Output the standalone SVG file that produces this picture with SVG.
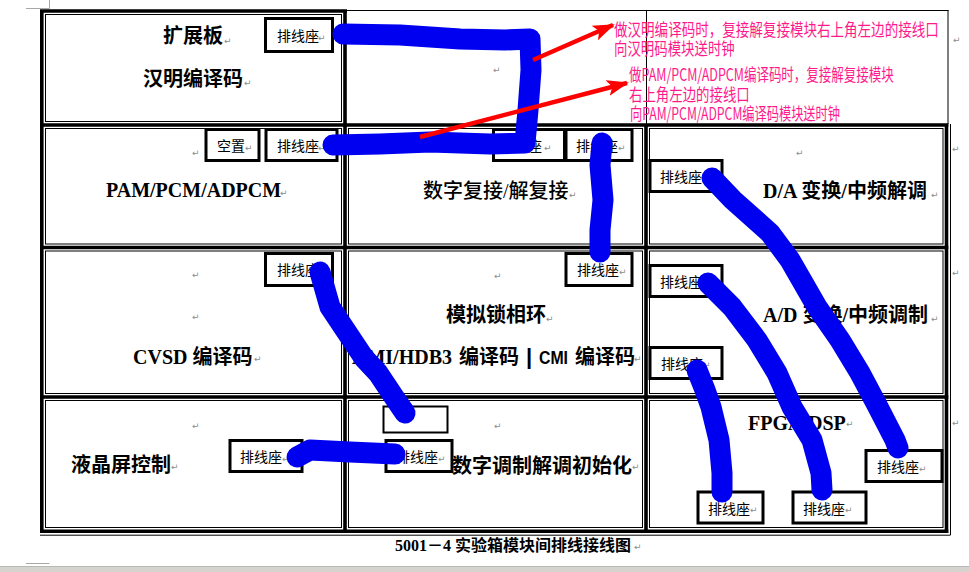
<svg xmlns="http://www.w3.org/2000/svg" width="969" height="572" viewBox="0 0 969 572">
<style>
.lbl{font-family:"Liberation Serif","Noto Sans CJK SC",serif;font-weight:bold;font-size:20px;fill:#000}
.lbln{font-family:"Liberation Serif","Noto Sans CJK SC",serif;font-weight:500;font-size:20px;fill:#000}
.cap{font-family:"Liberation Serif","Noto Sans CJK SC",serif;font-weight:bold;font-size:16px;fill:#000}
.box{fill:#fff;stroke:#000;stroke-width:3}
.bt{font-family:"Noto Sans CJK SC",sans-serif;font-size:14px;fill:#000}
.pm{font-family:"DejaVu Sans",sans-serif;font-size:9px;fill:#8c8c8c}
.ann{font-family:"Noto Sans CJK SC",sans-serif;font-size:17px;fill:#ff1a8c}
.thick{fill:none;stroke:#000;stroke-width:3.6}
.thin{fill:none;stroke:#000;stroke-width:1}
.blue{fill:none;stroke:#0000f0;stroke-width:21;stroke-linecap:round;stroke-linejoin:round}
.red{fill:none;stroke:#ff0000;stroke-width:4.5;marker-end:url(#ah)}
</style>
<defs>
<marker id="ah" viewBox="0 0 22 16" refX="20" refY="8" markerWidth="22" markerHeight="16" markerUnits="userSpaceOnUse" orient="auto">
<path d="M0,0 L22,8 L0,16 L5,8 z" fill="#ff0000"/>
</marker>
</defs>
<rect width="969" height="572" fill="#fff"/>
<!-- page marks and status bar -->
<path d="M26,8.5 H49.5 V0" fill="none" stroke="#a8a8a8" stroke-width="1"/>
<path d="M26,563.5 H49.5" fill="none" stroke="#a8a8a8" stroke-width="1"/>
<rect x="0" y="566" width="969" height="6" fill="#d6d3ce"/>
<line x1="0" y1="566.5" x2="969" y2="566.5" stroke="#b8b8b8" stroke-width="1"/>

<!-- table grid -->
<g id="grid">
<path class="thick" d="M40,11 H347 M41.8,9.5 V533 M345,9.5 V533 M646,123.5 V533 M946.5,123.5 V533 M40,125 H948.5 M40,247.5 H948.5 M40,397 H948.5 M40,531.2 H948.5"/>
<path class="thin" d="M345,10.5 H948.5 M948,10 V124 M646.5,10 V124 M950.5,124 V535 M40,535.2 H950.5"/>
<g class="thin">
<rect x="45.5" y="14.5" width="296" height="107"/>
<rect x="45.5" y="128.5" width="296" height="115.5"/>
<rect x="348.5" y="128.5" width="294" height="115.5"/>
<rect x="649.5" y="128.5" width="293.5" height="115.5"/>
<rect x="45.5" y="251" width="296" height="142.5"/>
<rect x="348.5" y="251" width="294" height="142.5"/>
<rect x="649.5" y="251" width="293.5" height="142.5"/>
<rect x="45.5" y="400.5" width="296" height="127"/>
<rect x="348.5" y="400.5" width="294" height="127"/>
<rect x="649.5" y="400.5" width="293.5" height="127"/>
</g>
</g>

<g id="cell-hanming">
<text class="lbl" x="163" y="43">扩展板</text><text class="pm" x="224" y="44">↵</text>
<text class="lbl" x="143" y="86">汉明编译码</text><text class="pm" x="244" y="86">↵</text>
<rect class="box" x="265.5" y="18.5" width="67" height="33"/>
<text class="bt" x="277" y="41">排线座</text><text class="pm" x="318" y="41">↵</text>
</g>

<g id="cell-top-mid">
<text class="pm" x="493" y="73">↵</text>
</g>

<g id="cell-pam">
<text class="pm" x="192" y="156">↵</text>
<rect class="box" x="206" y="129.5" width="53" height="31"/>
<text class="bt" x="217" y="151">空置</text><text class="pm" x="245" y="151">↵</text>
<rect class="box" x="266" y="129.5" width="71" height="31"/>
<text class="bt" x="277" y="151">排线座</text><text class="pm" x="318" y="151">↵</text>
<text class="lbl" x="106" y="197">PAM/PCM/ADPCM</text><text class="pm" x="280" y="196">↵</text>
</g>

<g id="cell-mux">
<rect class="box" x="493.5" y="129.5" width="71" height="31"/>
<text class="bt" x="500" y="151">排线座</text><text class="pm" x="544" y="151">↵</text>
<rect class="box" x="566" y="129.5" width="66" height="31"/>
<text class="bt" x="576" y="151">排线座</text><text class="pm" x="618" y="151">↵</text>
<text class="lbln" x="423" y="198">数字复接/解复接</text><text class="pm" x="569" y="198">↵</text>
</g>

<g id="cell-da">
<text class="pm" x="796" y="156">↵</text>
<rect class="box" x="650" y="160.5" width="72" height="31"/>
<text class="bt" x="660" y="182">排线座</text>
<text class="lbl" x="763" y="198">D/A 变换/中频解调</text><text class="pm" x="931" y="198">↵</text>
</g>

<g id="cell-cvsd">
<rect class="box" x="265.5" y="253.5" width="67" height="32"/>
<text class="bt" x="277" y="275">排线座</text>
<text class="pm" x="192" y="278">↵</text>
<text class="pm" x="192" y="320">↵</text>
<text class="lbl" x="133" y="364">CVSD 编译码</text><text class="pm" x="254" y="362">↵</text>
</g>

<g id="cell-pll">
<text class="pm" x="494" y="279">↵</text>
<rect class="box" x="566" y="253.5" width="66" height="32"/>
<text class="bt" x="577" y="275">排线座</text><text class="pm" x="619" y="275">↵</text>
<text class="lbl" x="446" y="322">模拟锁相环</text><text class="pm" x="546" y="322">↵</text>
<text class="lbl" y="364"><tspan x="352">AMI/HDB3</tspan><tspan x="459">编译码</tspan><tspan x="526" font-family="'Liberation Sans',sans-serif" font-size="22">|</tspan><tspan x="539" font-family="'Liberation Sans Narrow','Liberation Sans',sans-serif" font-size="19" textLength="29" lengthAdjust="spacingAndGlyphs">CMI</tspan><tspan x="575">编译码</tspan></text>
<text class="pm" x="634" y="362">↵</text>
</g>

<g id="cell-ad">
<rect class="box" x="650" y="265.5" width="72" height="31"/>
<text class="bt" x="660" y="287">排线座</text>
<rect class="box" x="650" y="347.5" width="72" height="31"/>
<text class="bt" x="661" y="369">排线座</text><text class="pm" x="703" y="368">↵</text>
<text class="lbl" x="763" y="322">A/D 变换/中频调制</text><text class="pm" x="931" y="322">↵</text>
</g>

<g id="cell-lcd">
<text class="pm" x="192" y="429">↵</text>
<rect class="box" x="230" y="440.5" width="72" height="31"/>
<text class="bt" x="240" y="462">排线座</text><text class="pm" x="282" y="462">↵</text>
<text class="lbl" x="71" y="472">液晶屏控制</text><text class="pm" x="171" y="470">↵</text>
</g>

<g id="cell-init">
<text class="pm" x="494" y="429">↵</text>
<rect x="383.5" y="406.5" width="64" height="26" fill="#fff" stroke="#000" stroke-width="2"/>
<rect class="box" x="386" y="440.5" width="66" height="31"/>
<text class="bt" x="396" y="462">排线座</text><text class="pm" x="438" y="462">↵</text>
<text class="lbl" x="452" y="473">数字调制解调初始化</text><text class="pm" x="632" y="470">↵</text>
</g>

<g id="cell-fpga">
<text class="lbl" x="748" y="430">FPGA/DSP</text><text class="pm" x="846" y="427">↵</text>
<rect class="box" x="866" y="450.5" width="76" height="31"/>
<text class="bt" x="877" y="472">排线座</text><text class="pm" x="919" y="472">↵</text>
<rect class="box" x="698" y="492" width="65" height="31"/>
<text class="bt" x="708" y="514">排线座</text><text class="pm" x="750" y="513">↵</text>
<rect class="box" x="793" y="492" width="73" height="31"/>
<text class="bt" x="803" y="514">排线座</text><text class="pm" x="845" y="513">↵</text>
</g>

<g id="row-marks">
<text class="pm" x="953" y="43">↵</text>
<text class="pm" x="952" y="152">↵</text>
<text class="pm" x="952" y="276">↵</text>
<text class="pm" x="952" y="426">↵</text>
</g>

<g id="caption">
<text class="cap" x="395" y="551">5001－4 实验箱模块间排线接线图</text><text class="pm" x="634" y="550">↵</text>
</g>

<g id="connectors">
<path class="blue" d="M343,34 L400,35 L460,39 L505,40 L530,39 L531,70 L528,110 L525,143 L490,144 L430,142 L380,144 L333,145"/>
<path class="blue" d="M602,143 L600,165 L603,200 L600,230 L600,252"/>
<path class="blue" d="M712,178 L733,200 L770,233 L790,260 L817,307 L840,340 L860,373 L878,407 L895,440 L898,448"/>
<path class="blue" d="M708,283 L732,307 L757,340 L777,373 L792,407 L812,440 L821,473 L822,490"/>
<path class="blue" d="M697,370 L705,390 L711,407 L719,440 L722,473 L722,492"/>
<path class="blue" d="M320,272 L330,307 L352,340 L364,358 L378,373 L394,397 L405,413"/>
<path class="blue" d="M297,457 L310,450 L350,452 L395,454"/>
<line class="red" x1="533" y1="60" x2="613" y2="25"/>
<line class="red" x1="420" y1="137" x2="627" y2="83"/>
</g>

<g id="notes" transform="scale(0.75,1)">
<text class="ann" x="818.7" y="36" textLength="433" lengthAdjust="spacingAndGlyphs">做汉明编译码时，复接解复接模块右上角左边的接线口</text>
<text class="ann" x="818.7" y="55" textLength="161" lengthAdjust="spacingAndGlyphs">向汉明码模块送时钟</text>
<text class="ann" x="838.7" y="81" textLength="353" lengthAdjust="spacingAndGlyphs">做PAM/PCM/ADPCM编译码时，复接解复接模块</text>
<text class="ann" x="838.7" y="101" textLength="161" lengthAdjust="spacingAndGlyphs">右上角左边的接线口</text>
<text class="ann" x="840" y="120" textLength="280" lengthAdjust="spacingAndGlyphs">向PAM/PCM/ADPCM编译码模块送时钟</text>
</g>
</svg>
